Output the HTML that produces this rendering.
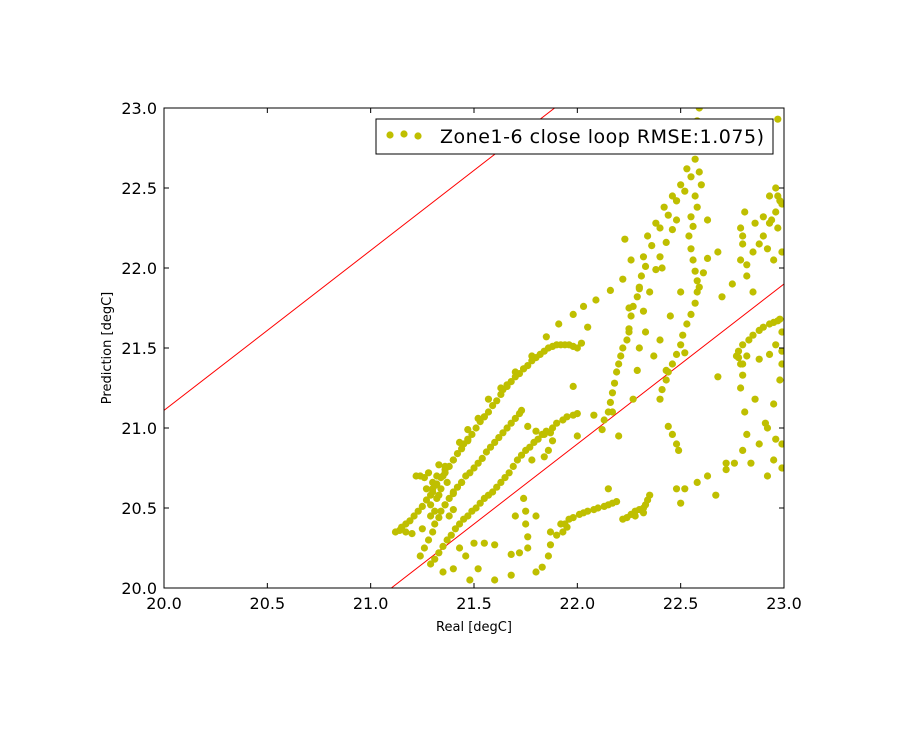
<!DOCTYPE html>
<html><head><meta charset="utf-8"><style>
html,body{margin:0;padding:0;background:#fff;width:902px;height:733px;overflow:hidden}
svg{display:block;font-family:"DejaVu Sans","Liberation Sans",sans-serif}
</style></head><body>
<svg id="chart" width="902" height="733" viewBox="0 0 902 733">
<rect x="0" y="0" width="902" height="733" fill="#fff"/>
<defs><clipPath id="plotclip"><rect x="164" y="108" width="620" height="480"/></clipPath></defs>
<g id="lines" clip-path="url(#plotclip)"></g>
<g id="points" clip-path="url(#plotclip)"></g>
<rect x="164" y="108" width="620" height="480" fill="none" stroke="#000" stroke-width="1"/>
<g id="ticks"></g>
<text x="474" y="631" font-size="13" text-anchor="middle">Real [degC]</text>
<text transform="translate(111,348) rotate(-90)" font-size="13" text-anchor="middle">Prediction [degC]</text>
<g>
<rect x="376" y="119" width="397" height="35" fill="#fff" stroke="#000" stroke-width="1"/>
<circle cx="390" cy="135" r="3.6" fill="#bfbf00"/>
<circle cx="404" cy="134" r="3.6" fill="#bfbf00"/>
<circle cx="418" cy="136" r="3.6" fill="#bfbf00"/>
<text x="440" y="143" font-size="19" textLength="324">Zone1-6 close loop RMSE:1.075)</text>
</g>
</svg>
<script>
const xTicks = [20.0, 20.5, 21.0, 21.5, 22.0, 22.5, 23.0];
const yTicks = [20.0, 20.5, 21.0, 21.5, 22.0, 22.5, 23.0];
const lineOffsets = [1.11, -1.1];
const realX = [
21.12,21.15,21.19,21.23,21.27,21.30,21.34,21.38,21.42,21.45,21.49,21.53,21.57,21.61,21.64,21.68,21.72,21.76,21.80,21.84,21.88,21.92,21.96,22.00,
21.36,21.40,21.32,21.47,21.55,21.66,21.74,
21.43,21.47,21.52,21.57,21.63,21.70,21.78,21.85,21.91,21.98,22.03,22.09,22.16,22.22,
21.24,21.28,21.31,21.34,21.38,21.42,21.46,21.50,21.54,21.58,21.62,21.66,21.70,21.73,21.36,21.40,21.44,
21.29,21.33,21.37,21.41,21.45,21.49,21.53,21.57,21.61,21.65,21.69,21.73,21.77,21.81,21.85,21.90,21.95,22.00,
21.22,21.26,21.30,21.33,21.36,21.30,21.34,21.29,21.32,21.20,21.17,21.25,21.38,21.40,
21.76,21.80,21.84,21.87,21.88,21.86,21.84,21.78,
21.74,21.75,21.75,21.76,21.76,21.72,21.68,
21.87,21.87,21.86,21.83,21.80,
21.92,21.96,22.01,22.05,22.10,22.15,22.19,21.93,21.95,
22.22,22.26,22.30,22.33,22.35,22.28,22.32,
21.35,21.40,21.46,21.50,21.55,21.60,21.48,21.60,21.68,21.43,21.52,21.80,21.70,
22.12,22.15,22.17,22.19,22.21,22.24,22.26,22.29,22.31,22.32,22.34,22.38,22.42,22.46,22.50,22.53,22.56,22.58,22.59,
22.27,22.29,22.30,22.32,22.30,22.26,22.23,
22.40,22.43,22.46,22.50,22.53,22.57,22.58,22.56,22.54,22.55,22.57,22.59,22.60,22.58,
22.38,22.40,22.43,22.46,22.48,
22.59,22.61,22.63,22.68,
22.90,22.93,22.96,22.98,22.88,22.85,22.93,22.96,22.86,22.90,22.80,22.79,22.82,22.85,22.97,22.99,22.95,22.92,
22.77,22.80,22.85,22.90,22.95,22.98,22.82,22.88,22.93,22.96,22.99,
22.79,22.79,22.81,22.82,22.80,22.76,22.72,
22.99,22.98,22.95,22.92,22.88,22.84,
22.44,22.46,22.48,22.49,
22.05,22.02,21.98,22.08,22.00,22.25,22.33,22.40,22.45,22.50,22.25,22.37,22.43,22.52,22.48,22.52,22.50,22.63,22.67,22.58,22.72,22.68,22.92,22.95,22.99,22.99,22.97,22.63,22.48,22.41,22.35,22.70,22.75,22.15,22.20,22.17,
21.14,21.17,21.21,21.25,21.29,21.32,21.36,21.40,21.44,21.47,21.51,21.55,21.59,21.63,21.66,21.70,21.74,21.78,21.82,21.86,21.90,21.94,21.98,
21.26,21.30,21.33,21.36,21.40,21.44,21.48,21.52,21.56,21.60,21.64,21.68,21.72,
21.31,21.35,21.39,21.43,21.47,21.51,21.55,21.59,21.63,21.67,21.71,21.75,21.79,21.83,21.88,21.93,21.98,
21.28,21.31,21.27,21.24,21.35,21.37,21.33,21.31,21.29,
22.13,22.16,22.18,22.20,22.22,22.25,22.27,22.30,22.33,22.36,22.40,22.44,22.48,22.52,22.55,22.57,
22.41,22.44,22.48,22.51,22.55,22.58,22.57,22.55,22.56,22.58,22.60,
22.78,22.83,22.88,22.93,22.97,22.80,22.86,22.91,22.96,22.99,22.78,22.80,
21.98,22.03,22.08,22.13,22.17,21.90,21.94,22.24,22.28,22.32,22.34,
22.79,22.80,22.82,22.81,22.99,22.97,22.94,22.90,22.86
];
const predY = [
20.35,20.38,20.42,20.48,20.55,20.62,20.69,20.76,20.84,20.90,20.96,21.04,21.10,21.17,21.24,21.29,21.34,21.39,21.44,21.48,21.51,21.52,21.52,21.50,
20.74,20.80,20.70,20.92,21.07,21.26,21.37,
20.91,20.99,21.06,21.18,21.25,21.35,21.45,21.57,21.65,21.71,21.76,21.80,21.86,21.93,
20.20,20.30,20.40,20.48,20.56,20.63,20.70,20.75,20.81,20.88,20.94,21.00,21.06,21.11,20.52,20.60,20.66,
20.15,20.22,20.30,20.37,20.43,20.48,20.53,20.58,20.63,20.69,20.76,20.83,20.88,20.93,20.98,21.03,21.07,21.09,
20.70,20.69,20.66,20.77,20.76,20.60,20.62,20.52,20.56,20.34,20.35,20.37,20.45,20.49,
21.01,20.98,20.96,20.97,20.92,20.86,20.82,20.80,
20.56,20.48,20.40,20.32,20.25,20.22,20.21,
20.35,20.27,20.20,20.13,20.10,
20.40,20.43,20.46,20.48,20.50,20.52,20.54,20.35,20.38,
20.43,20.46,20.49,20.52,20.58,20.45,20.47,
20.10,20.12,20.20,20.28,20.28,20.27,20.05,20.05,20.08,20.25,20.12,20.45,20.45,
20.99,21.10,21.22,21.35,21.45,21.55,21.70,21.82,21.95,22.07,22.20,22.28,22.38,22.45,22.52,22.62,22.75,22.90,23.00,
21.18,21.36,21.50,21.73,21.87,22.05,22.18,
21.18,21.30,21.40,21.52,21.65,21.78,21.92,22.05,22.20,22.32,22.45,22.60,22.75,22.92,
21.99,22.07,22.16,22.24,22.30,
21.88,21.97,22.06,22.10,
22.20,22.28,22.35,22.42,22.15,22.10,22.45,22.50,22.28,22.32,22.20,22.05,21.95,21.85,22.25,22.10,22.05,22.12,
21.45,21.52,21.58,21.63,21.66,21.68,21.45,21.43,21.46,21.52,21.60,
21.40,21.25,21.10,20.96,20.86,20.78,20.74,
21.48,21.30,21.15,21.00,20.90,20.78,
21.01,20.96,20.90,20.86,
21.63,21.53,21.26,21.08,20.95,21.60,21.60,21.55,21.70,21.85,21.75,21.45,21.36,21.47,20.62,20.62,20.53,20.70,20.58,20.66,20.78,21.32,20.70,20.80,20.90,20.75,22.93,22.30,22.42,22.00,21.85,21.82,21.90,20.62,20.95,21.10,
20.36,20.40,20.45,20.51,20.58,20.65,20.72,20.80,20.87,20.93,21.00,21.07,21.14,21.21,21.27,21.32,21.37,21.42,21.46,21.50,21.52,21.52,21.51,
20.25,20.35,20.44,20.52,20.59,20.66,20.72,20.78,20.85,20.91,20.97,21.03,21.09,
20.18,20.26,20.33,20.40,20.45,20.50,20.56,20.60,20.66,20.72,20.80,20.86,20.91,20.96,21.00,21.05,21.08,
20.72,20.64,20.62,20.70,20.70,20.66,20.58,20.48,20.45,
21.05,21.16,21.28,21.40,21.50,21.62,21.76,21.88,22.01,22.14,22.25,22.33,22.42,22.48,22.57,22.68,
21.24,21.35,21.46,21.58,21.71,21.85,21.98,22.12,22.26,22.38,22.52,
21.48,21.55,21.61,21.65,21.67,21.33,21.18,21.03,20.93,21.40,21.44,21.40,
20.44,20.47,20.49,20.51,20.53,20.33,20.40,20.44,20.48,20.50,20.55,
22.25,22.15,22.02,22.35,22.40,22.45,22.30
];
const NS='http://www.w3.org/2000/svg';
const X0=164,X1=784,Y0=588,Y1=108;
function sx(v){return X0+(v-20)/3*(X1-X0);}
function sy(v){return Y0-(v-20)/3*(Y0-Y1);}
const lg=document.getElementById('lines');
lineOffsets.forEach(function(o){
  const l=document.createElementNS(NS,'line');
  l.setAttribute('x1',sx(19));l.setAttribute('y1',sy(19+o));
  l.setAttribute('x2',sx(24));l.setAttribute('y2',sy(24+o));
  l.setAttribute('stroke','#ff0000');l.setAttribute('stroke-width','1');
  
  
  lg.appendChild(l);
});
const pg=document.getElementById('points');
const n=Math.min(realX.length,predY.length);
for(let i=0;i<n;i++){
  const c=document.createElementNS(NS,'circle');
  c.setAttribute('cx',sx(realX[i]));c.setAttribute('cy',sy(predY[i]));
  c.setAttribute('r','3.6');c.setAttribute('fill','#bfbf00');
  
  
  pg.appendChild(c);
}
const tg=document.getElementById('ticks');
function mk(tag,attrs){const e=document.createElementNS(NS,tag);for(const k in attrs)e.setAttribute(k,attrs[k]);return e;}
xTicks.forEach(function(t){
  const x=sx(t);
  const a=mk('line',{x1:x,y1:Y0,x2:x,y2:Y0-5,stroke:'#000'});
  
  
  tg.appendChild(a);
  const b=mk('line',{x1:x,y1:Y1,x2:x,y2:Y1+5,stroke:'#000'});
  
  
  tg.appendChild(b);
  const tx=mk('text',{x:x,y:609,'font-size':16,'text-anchor':'middle'});
  tx.textContent=t.toFixed(1);
  
  
  tg.appendChild(tx);
});
yTicks.forEach(function(t){
  const y=sy(t);
  const a=mk('line',{x1:X0,y1:y,x2:X0+5,y2:y,stroke:'#000'});
  
  
  tg.appendChild(a);
  const b=mk('line',{x1:X1,y1:y,x2:X1-5,y2:y,stroke:'#000'});
  
  
  tg.appendChild(b);
  const tx=mk('text',{x:157,y:y+6,'font-size':16,'text-anchor':'end'});
  tx.textContent=t.toFixed(1);
  
  
  tg.appendChild(tx);
});
</script>
</body></html>
